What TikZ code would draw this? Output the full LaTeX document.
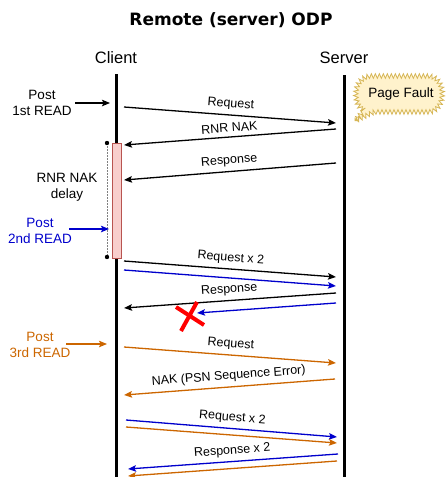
\documentclass[tikz,border=0pt]{standalone}
\usepackage{fontspec}
\setmainfont{Liberation Sans}
\newfontfamily\titlefont{DejaVu Sans}
\usetikzlibrary{arrows.meta,decorations.pathmorphing}
\definecolor{cblue}{HTML}{0000CC}
\definecolor{corange}{HTML}{CC6600}
\definecolor{actfill}{HTML}{F8CECC}
\definecolor{actdraw}{HTML}{B85450}
\definecolor{pffill}{HTML}{FFF2CC}
\definecolor{pfdraw}{HTML}{D6B656}
\begin{document}
\begin{tikzpicture}[x=1pt,y=-1pt,
  msg/.style={line width=1.3pt,-{Stealth[length=8pt,width=6.5pt,inset=1.5pt]}},
  lbl/.style={font=\fontsize{12.5}{14}\selectfont,text=black,sloped,above=1pt,midway},
  side/.style={font=\fontsize{13.5}{16}\selectfont,align=center},
  head/.style={font=\fontsize{16.5}{19}\selectfont},
  life/.style={line width=3pt}]
\useasboundingbox (0,0) rectangle (447,477);

% title and headers
\node[font=\titlefont\bfseries\fontsize{17}{20}\selectfont] (title) at (231,20) {Remote (server) ODP};
\node[head] (client) at (116,58) {Client};
\node[head] (server) at (344,58) {Server};

% lifelines
\coordinate (ctop) at (116,74);
\coordinate (cbot) at (116,477);
\coordinate (stop) at (344,75);
\coordinate (sbot) at (344,477);
\draw[life] (ctop) -- (cbot);
\draw[life] (stop) -- (sbot);

% page fault callout
\draw[fill=pffill,draw=pfdraw,line width=0.8pt,decorate,decoration={zigzag,segment length=4pt,amplitude=2.3pt}]
  (355,121) -- (374,112) -- (428,112) .. controls (447,112) and (447,76) .. (428,76)
  -- (372,76) .. controls (352,76) and (352,106) .. (364,110) -- cycle;
\node[font=\fontsize{13.5}{16}\selectfont] (pf) at (401,94) {Page Fault};

% activation and delay
\node[draw=actdraw,fill=actfill,line width=0.9pt,minimum width=9pt,minimum height=115pt,inner sep=0pt] (act) at (116.5,200.5) {};
\coordinate (d1) at (107,143);
\coordinate (d2) at (107,257);
\draw[gray,line width=0.9pt,dash pattern=on 1.5pt off 1.5pt] (d1) -- (d2);
\fill (d1) circle (2.2pt);
\fill (d2) circle (2.2pt);
\node[side] (delay) at (67,187) {RNR NAK\\delay};

% side posts
\node[side] (p1) at (42,103) {Post\\1st READ};
\coordinate (p1t) at (110,103);
\draw[msg] (p1.east) -- (p1t);
\node[side,text=cblue] (p2) at (40,231) {Post\\2nd READ};
\coordinate (p2s) at (69,229);
\coordinate (p2t) at (109,229);
\draw[msg,cblue] (p2s) -- (p2t);
\node[side,text=corange] (p3) at (40,345) {Post\\3rd READ};
\coordinate (p3s) at (66,344);
\coordinate (p3t) at (107,344);
\draw[msg,corange] (p3s) -- (p3t);

% messages
\coordinate (a1) at (124,107); \coordinate (b1) at (336,123);
\draw[msg] (a1) -- node[lbl] {Request} (b1);
\coordinate (a2) at (336,129); \coordinate (b2) at (124,145);
\draw[msg] (a2) -- node[lbl] {RNR NAK} (b2);
\coordinate (a3) at (336,163); \coordinate (b3) at (124,180);
\draw[msg] (a3) -- node[lbl] {Response} (b3);

\coordinate (a4) at (124,261); \coordinate (b4) at (336,277);
\draw[msg] (a4) -- node[lbl] {Request x 2} (b4);
\coordinate (a5) at (124,270); \coordinate (b5) at (336,286);
\draw[msg,cblue] (a5) -- (b5);

\coordinate (a6) at (336,293); \coordinate (b6) at (124,308);
\draw[msg] (a6) -- node[lbl] {Response} (b6);
\coordinate (a7) at (336,303); \coordinate (b7) at (197,313);
\draw[msg,cblue] (a7) -- (b7);

% red X
\coordinate (x1) at (176,307); \coordinate (x2) at (204,325);
\coordinate (x3) at (197,302); \coordinate (x4) at (181,331);
\draw[red,line width=4pt] (x1) -- (x2);
\draw[red,line width=4pt] (x3) -- (x4);

\coordinate (a8) at (124,347); \coordinate (b8) at (336,363);
\draw[msg,corange] (a8) -- node[lbl] {Request} (b8);
\coordinate (a9) at (335,379); \coordinate (b9) at (124,395);
\draw[msg,corange] (a9) -- node[lbl] {NAK (PSN Sequence Error)} (b9);

\coordinate (a10) at (126,420); \coordinate (b10) at (337,437);
\draw[msg,cblue] (a10) -- node[lbl] {Request x 2} (b10);
\coordinate (a11) at (126,427); \coordinate (b11) at (337,443);
\draw[msg,corange] (a11) -- (b11);

\coordinate (a12) at (338,454); \coordinate (b12) at (128,469);
\draw[msg,cblue] (a12) -- node[lbl] {Response x 2} (b12);
\coordinate (a13) at (337,461); \coordinate (b13) at (128,476);
\draw[msg,corange] (a13) -- (b13);
\end{tikzpicture}
\end{document}
